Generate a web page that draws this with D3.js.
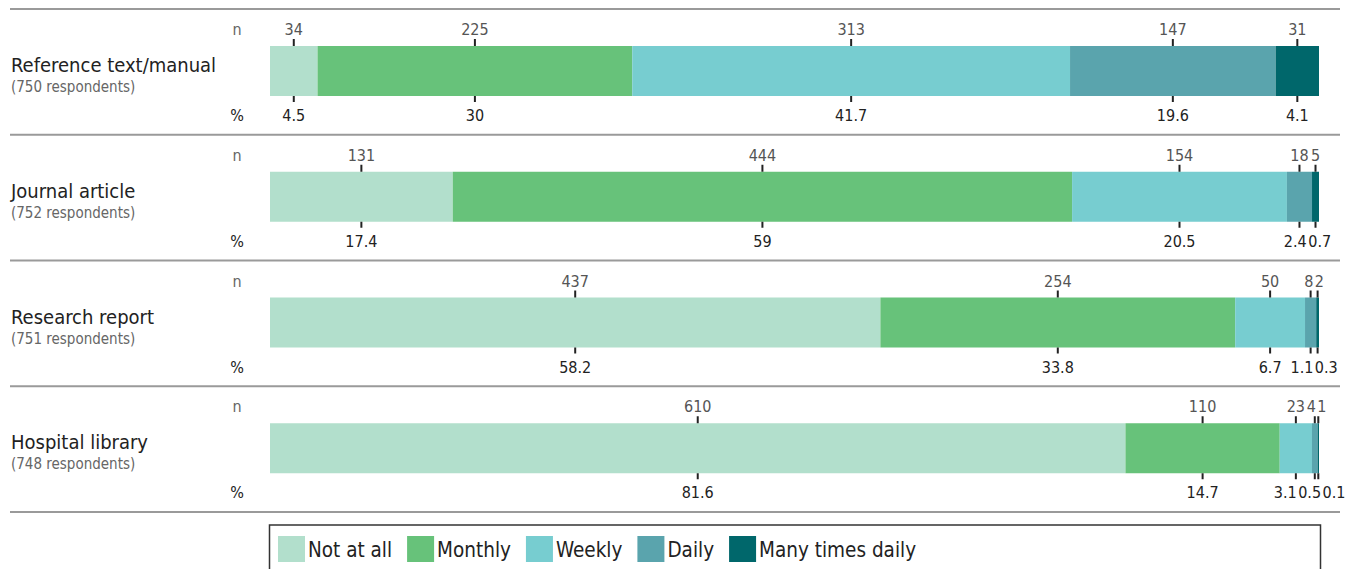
<!DOCTYPE html>
<html>
<head>
<meta charset="utf-8">
<script src="https://cdn.jsdelivr.net/npm/d3@7"></script>
<style>
  body { margin: 0; background: #fff; }
  svg { display: block; font-family: "DejaVu Sans Condensed", "Liberation Sans Narrow", sans-serif; font-stretch: condensed; }
</style>
</head>
<body>
<svg></svg>
<script>
const categories = ["Not at all", "Monthly", "Weekly", "Daily", "Many times daily"];
const colors = ["#b2dfcc", "#67c27a", "#77cdd0", "#5aa4ad", "#00676b"];

const sources = ["Reference text/manual", "Journal article", "Research report", "Hospital library"];
const respondents = [750, 752, 751, 748];

const nReference = [34, 225, 313, 147, 31];
const nJournal = [131, 444, 154, 18, 5];
const nResearch = [437, 254, 50, 8, 2];
const nHospital = [610, 110, 23, 4, 1];

const pctReference = ["4.5", "30", "41.7", "19.6", "4.1"];
const pctJournal = ["17.4", "59", "20.5", "2.4", "0.7"];
const pctResearch = ["58.2", "33.8", "6.7", "1.1", "0.3"];
const pctHospital = ["81.6", "14.7", "3.1", "0.5", "0.1"];

const counts = [nReference, nJournal, nResearch, nHospital];
const pcts = [pctReference, pctJournal, pctResearch, pctHospital];

const width = 1347;
const height = 569;
const barH = 50;
const numSize = 16;

const svg = d3.select('svg')
  .attr("width", width)
  .attr("height", height);

const xScale = d3.scaleLinear().domain([0, 1]).range([270, 1319]);
const yScale = d3.scaleBand().domain(sources).range([9, 512]);
const color = d3.scaleOrdinal().domain(categories).range(colors);

// build rows with stacked segments
const rows = sources.map((s, i) => {
  let acc = 0;
  const segs = counts[i].map((n, j) => {
    const seg = { cat: categories[j], n: n, pct: pcts[i][j], x0: acc / respondents[i], x1: (acc + n) / respondents[i] };
    acc += n;
    return seg;
  });
  return { name: s, total: respondents[i], segs: segs };
});

// dividers
const lines = [...sources.map(s => yScale(s)), yScale.range()[1]];
svg.selectAll('line.divider')
   .data(lines)
   .enter()
   .append('line')
   .attr('class', 'divider')
   .attr('x1', 10).attr('x2', 1340)
   .attr('y1', d => d).attr('y2', d => d)
   .attr('stroke', '#9a9a9a')
   .attr('stroke-width', 2);

const row = svg.selectAll('g.row')
  .data(rows)
  .enter()
  .append('g')
  .attr('class', 'row')
  .attr('transform', d => "translate(0," + (yScale(d.name) + 37) + ")");

row.append('text')
   .attr('x', 11).attr('y', barH / 2 + 1)
   .attr('font-size', 20)
   .attr('fill', '#222')
   .text(d => d.name);

row.append('text')
   .attr('x', 11).attr('y', barH / 2 + 21)
   .attr('font-size', 15)
   .attr('fill', '#666')
   .text(d => "(" + d.total + " respondents)");

row.append('text')
   .attr('x', 237).attr('y', -11)
   .attr('text-anchor', 'middle')
   .attr('font-size', numSize)
   .attr('fill', '#666')
   .text('n');

row.append('text')
   .attr('x', 237).attr('y', barH + 25)
   .attr('text-anchor', 'middle')
   .attr('font-size', numSize)
   .attr('fill', '#222')
   .text('%');

row.selectAll('rect')
   .data(d => d.segs)
   .enter()
   .append('rect')
   .attr('x', d => xScale(d.x0))
   .attr('y', 0)
   .attr('width', d => xScale(d.x1) - xScale(d.x0))
   .attr('height', barH)
   .attr('fill', d => color(d.cat));

// ticks above and below each segment centre
row.selectAll('line.tick-top')
   .data(d => d.segs)
   .enter()
   .append('line')
   .attr('x1', d => xScale((d.x0 + d.x1) / 2))
   .attr('x2', d => xScale((d.x0 + d.x1) / 2))
   .attr('y1', -7).attr('y2', 0)
   .attr('stroke', '#222').attr('stroke-width', 2);

row.selectAll('line.tick-bottom')
   .data(d => d.segs)
   .enter()
   .append('line')
   .attr('x1', d => xScale((d.x0 + d.x1) / 2))
   .attr('x2', d => xScale((d.x0 + d.x1) / 2))
   .attr('y1', barH).attr('y2', barH + 6)
   .attr('stroke', '#222').attr('stroke-width', 2);

row.selectAll('text.nlab')
   .data(d => d.segs)
   .enter()
   .append('text')
   .attr('class', 'nlab')
   .attr('x', d => xScale((d.x0 + d.x1) / 2))
   .attr('y', -11)
   .attr('text-anchor', 'middle')
   .attr('font-size', numSize)
   .attr('fill', '#555')
   .text(d => d.n);

row.selectAll('text.plab')
   .data(d => d.segs)
   .enter()
   .append('text')
   .attr('class', 'plab')
   .attr('x', d => xScale((d.x0 + d.x1) / 2))
   .attr('y', barH + 25)
   .attr('text-anchor', 'middle')
   .attr('font-size', numSize)
   .attr('fill', '#222')
   .text(d => d.pct);

// push overlapping labels apart
const spread = (sel) => {
  row.each(function () {
    const nodes = d3.select(this).selectAll(sel).nodes();
    const items = nodes.map(n => ({ node: n, x: +n.getAttribute('x'), w: n.getComputedTextLength() }));
    for (let it = 0; it < 60; it++) {
      for (let k = 1; k < items.length; k++) {
        const a = items[k - 1], b = items[k];
        const o = (a.x + a.w / 2 + 1.5) - (b.x - b.w / 2);
        if (o > 0) { a.x -= o / 2; b.x += o / 2; }
      }
    }
    items.forEach(d => d.node.setAttribute('x', d.x));
  });
};
spread('text.nlab');
spread('text.plab');

// legend
svg.append('rect')
   .attr('x', 269.5).attr('y', 525)
   .attr('width', 1051).attr('height', 80)
   .attr('fill', 'none')
   .attr('stroke', '#333')
   .attr('stroke-width', 1.5);

const legend = svg.append('g').attr('transform', 'translate(278,536)');
let lx = 0;
categories.forEach(c => {
  const g = legend.append('g').attr('transform', 'translate(' + lx + ',0)');
  g.append('rect').attr('width', 27).attr('height', 26).attr('fill', color(c));
  const t = g.append('text')
    .attr('x', 30).attr('y', 21)
    .attr('font-size', 20.5)
    .attr('fill', '#222')
    .text(c);
  lx += 30 + t.node().getComputedTextLength() + 15;
});
</script>
</body>
</html>
